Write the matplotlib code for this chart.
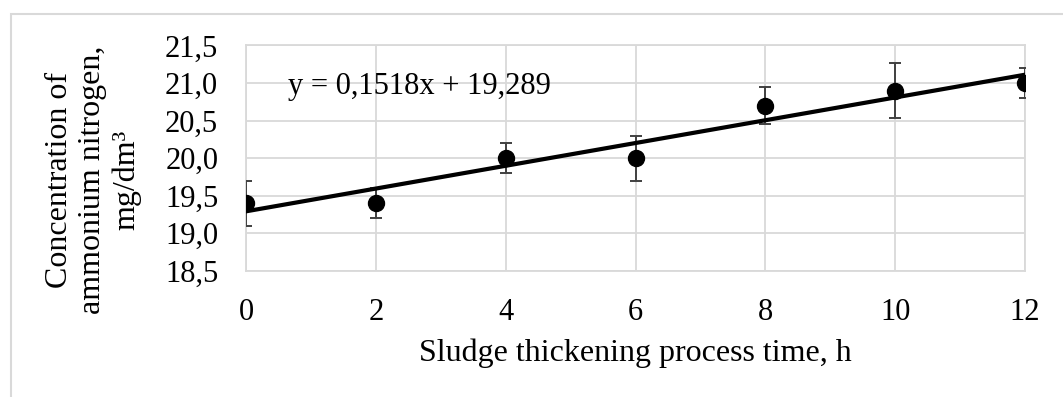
import matplotlib.pyplot as plt
from matplotlib.patches import Rectangle
from matplotlib.ticker import FuncFormatter

# data
time_h = [0, 2, 4, 6, 8, 10, 12]
nitrogen = [19.4, 19.4, 20.0, 20.0, 20.7, 20.9, 21.0]
err = [0.3, 0.2, 0.2, 0.3, 0.25, 0.37, 0.2]

# trend line from the chart equation
slope = 0.1518
intercept = 19.289
trend_x = [0, 12]

plt.rcParams['font.family'] = ['Liberation Serif', 'DejaVu Serif']

fig = plt.figure(figsize=(10.63, 3.97), dpi=100)
ax = fig.add_axes([0.2314, 0.3186, 0.7329, 0.5668])

# outer light frame (cut off at right and bottom)
fig.patches.append(Rectangle((11 / 1063, -0.1), 1.2, 1 - 14 / 397 + 0.1,
                             transform=fig.transFigure, fill=False,
                             edgecolor='#d9d9d9', lw=1.5))

ax.errorbar(time_h, nitrogen, yerr=err, fmt='o', color='black',
            ecolor='#404040', elinewidth=1.4, capsize=4.5, capthick=1.4,
            markersize=11.5, zorder=3)
trend_y = [slope * x + intercept for x in trend_x]
ax.plot(trend_x, trend_y, color='black', lw=3, zorder=4)

ax.set_xlim(0, 12)
ax.set_ylim(18.5, 21.5)
ax.set_xticks(time_h)
ax.set_yticks([18.5, 19.0, 19.5, 20.0, 20.5, 21.0, 21.5])
ax.yaxis.set_major_formatter(FuncFormatter(lambda v, p: f'{v:.1f}'.replace('.', ',')))
ax.tick_params(axis='both', length=0, labelsize=22)
ax.tick_params(axis='y', pad=20)
ax.tick_params(axis='x', pad=20)

ax.grid(True, color='#d9d9d9', lw=1.3)
ax.set_axisbelow(True)
for s in ax.spines.values():
    s.set_color('#d9d9d9')
    s.set_linewidth(1.3)

ax.text(0.65, 20.95, 'y = 0,1518x + 19,289', fontsize=22, va='center', ha='left')

ax.set_xlabel('Sludge thickening process time, h', fontsize=23, labelpad=8)
fig.text(93 / 1063, 1 - 180 / 397,
         'Concentration of\nammonium nitrogen,\nmg/dm³',
         rotation=90, fontsize=23, ha='center', va='center',
         multialignment='center', linespacing=1.2)

plt.savefig('out.png', dpi=100)
